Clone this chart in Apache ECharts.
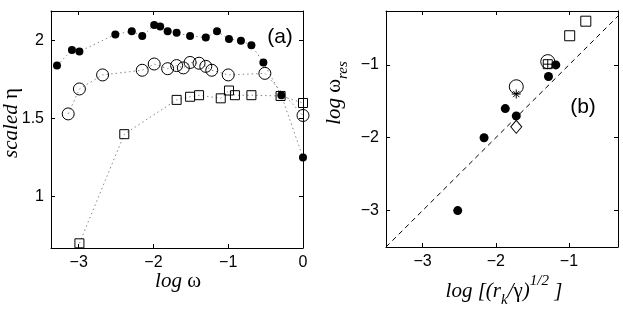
<!DOCTYPE html>
<html><head><meta charset="utf-8">
<script src="https://cdn.jsdelivr.net/npm/echarts@6/dist/echarts.min.js"></script>
<style>html,body{margin:0;padding:0;background:#fff}#c{width:623px;height:316px}</style>
</head><body><div id="c"></div>
<script>
// ---- panel (a) ----
const aTicksX = [-3, -2, -1, 0];
const aTicksY = [1, 1.5, 2];
const filledX = [-3.29,-3.09,-2.99,-2.51,-2.29,-2.15,-1.99,-1.91,-1.81,-1.69,-1.51,-1.30,-1.15,-0.99,-0.83,-0.69,-0.53,-0.29,0];
const filledY = [1.84,1.94,1.93,2.04,2.06,2.03,2.10,2.09,2.06,2.05,2.03,2.02,2.06,2.01,2.00,1.97,1.86,1.65,1.25];
const openX = [-3.14,-2.99,-2.68,-2.15,-1.99,-1.81,-1.69,-1.60,-1.51,-1.39,-1.30,-1.22,-1.00,-0.51,0];
const openY = [1.53,1.69,1.78,1.81,1.85,1.82,1.84,1.825,1.86,1.855,1.835,1.81,1.78,1.79,1.52];
const squareX = [-2.99,-2.39,-1.69,-1.51,-1.39,-1.10,-0.99,-0.91,-0.69,-0.30,0];
const squareY = [0.70,1.40,1.62,1.64,1.65,1.63,1.68,1.65,1.65,1.645,1.60];

// ---- panel (b) ----
const bTicksX = [-3, -2, -1];
const bTicksY = [-3, -2, -1];
const bFilledX = [-2.52,-2.16,-1.87,-1.72,-1.28,-1.18];
const bFilledY = [-3.0,-2.0,-1.60,-1.70,-1.16,-1.0];
const bOpenX = [-1.72,-1.29];
const bOpenY = [-1.30,-0.955];
const bStarX = [-1.72];
const bStarY = [-1.40];
const bDiamondX = [-1.72];
const bDiamondY = [-1.85];
const bSqPlusX = [-1.29];
const bSqPlusY = [-0.99];
const bSquareX = [-0.99,-0.77];
const bSquareY = [-0.60,-0.40];
const diagX = [-3.5, -0.33];
const diagY = [-3.5, -0.33];

const zip = (xs, ys) => xs.map((x, i) => [x, ys[i]]);
const fmt = v => String(v).replace('-', '\u2212');
const tickFont = {fontFamily: 'Liberation Sans', fontSize: 16, color: '#000'};

function axis(kind, grid, pos, min, max, ticks, labels) {
  return {
    type: 'value', gridIndex: grid, position: pos, min: min, max: max,
    axisLine: {show: true, onZero: false, lineStyle: {color: '#000', width: 1}},
    axisTick: {show: true, inside: true, length: 4, customValues: ticks, lineStyle: {color: '#000'}},
    axisLabel: labels ? Object.assign({show: true, customValues: ticks, formatter: fmt, margin: 7}, tickFont) : {show: false},
    splitLine: {show: false}
  };
}

const dotted = {color: '#888', width: 1, type: [1.5, 3]};
const hollow = {color: 'rgba(0,0,0,0)', borderColor: '#000', borderWidth: 1, opacity: 1};
const solid = {color: '#000', opacity: 1};

const starPath = 'path://M0,5H10M5,0V10M1.5,1.5L8.5,8.5M8.5,1.5L1.5,8.5';
const diamondPath = 'path://M5,0L10,6L5,12L0,6Z';
const sqPlusPath = 'path://M0,0H10V10H0ZM5,0V10M0,5H10';

const serif = 'Liberation Serif';
const richBase = {
  m: {fontFamily: serif, fontStyle: 'italic', fontSize: 21, lineHeight: 34, verticalAlign: 'middle'},
  g: {fontFamily: serif, fontStyle: 'normal', fontSize: 21, lineHeight: 34, verticalAlign: 'middle'},
  s: {fontFamily: serif, fontStyle: 'italic', fontSize: 15, lineHeight: 15, verticalAlign: 'bottom'},
  p: {fontFamily: serif, fontStyle: 'italic', fontSize: 15, lineHeight: 13, verticalAlign: 'top'}
};

const option = {
  animation: false,
  backgroundColor: '#fff',
  grid: [
    {left: 51, top: 11, width: 252, height: 237},
    {left: 386, top: 11, width: 232, height: 236}
  ],
  xAxis: [
    axis('x', 0, 'bottom', -3.37, 0, aTicksX, true),
    axis('x', 0, 'top', -3.37, 0, aTicksX, false),
    axis('x', 1, 'bottom', -3.5, -0.33, bTicksX, true),
    axis('x', 1, 'top', -3.5, -0.33, bTicksX, false)
  ],
  yAxis: [
    axis('y', 0, 'left', 0.67, 2.19, aTicksY, true),
    axis('y', 0, 'right', 0.67, 2.19, aTicksY, false),
    axis('y', 1, 'left', -3.5, -0.26, bTicksY, true),
    axis('y', 1, 'right', -3.5, -0.26, bTicksY, false)
  ],
  series: [
    {type: 'line', xAxisIndex: 0, yAxisIndex: 0, data: zip(squareX, squareY), symbol: 'rect', symbolSize: 9,
     showAllSymbol: true, lineStyle: dotted, itemStyle: hollow, clip: false},
    {type: 'line', xAxisIndex: 0, yAxisIndex: 0, data: zip(openX, openY), symbol: 'circle', symbolSize: 12,
     showAllSymbol: true, lineStyle: dotted, itemStyle: hollow, clip: false},
    {type: 'line', xAxisIndex: 0, yAxisIndex: 0, data: zip(filledX, filledY), symbol: 'circle', symbolSize: 8,
     showAllSymbol: true, lineStyle: dotted, itemStyle: solid, clip: false},

    {type: 'line', xAxisIndex: 2, yAxisIndex: 2, data: zip(diagX, diagY), symbol: 'none',
     lineStyle: {color: '#000', width: 1, type: [5, 4]}},
    {type: 'scatter', xAxisIndex: 2, yAxisIndex: 2, data: zip(bOpenX, bOpenY), symbol: 'circle', symbolSize: 14, itemStyle: hollow},
    {type: 'scatter', xAxisIndex: 2, yAxisIndex: 2, data: zip(bSquareX, bSquareY), symbol: 'rect', symbolSize: 10, itemStyle: hollow},
    {type: 'scatter', xAxisIndex: 2, yAxisIndex: 2, data: zip(bSqPlusX, bSqPlusY), symbol: sqPlusPath, symbolSize: 9, itemStyle: hollow},
    {type: 'scatter', xAxisIndex: 2, yAxisIndex: 2, data: zip(bStarX, bStarY), symbol: starPath, symbolSize: 9, itemStyle: hollow},
    {type: 'scatter', xAxisIndex: 2, yAxisIndex: 2, data: zip(bDiamondX, bDiamondY), symbol: diamondPath, symbolSize: [11, 13], itemStyle: hollow},
    {type: 'scatter', xAxisIndex: 2, yAxisIndex: 2, data: zip(bFilledX, bFilledY), symbol: 'circle', symbolSize: 9, itemStyle: solid}
  ],
  graphic: [
    {type: 'text', x: 280, y: 37, style: {text: '(a)', font: '21px "Liberation Sans"', fill: '#000', textAlign: 'center', textVerticalAlign: 'middle'}},
    {type: 'text', x: 583, y: 107, style: {text: '(b)', font: '21px "Liberation Sans"', fill: '#000', textAlign: 'center', textVerticalAlign: 'middle'}},
    {type: 'text', x: 178, y: 281, style: {text: '{m|log }{g|ω}', rich: richBase, fill: '#000', textAlign: 'center', textVerticalAlign: 'middle'}},
    {type: 'text', x: 11, y: 123, rotation: Math.PI / 2,
     style: {text: '{m|scaled }{g|η}', rich: richBase, fill: '#000', textAlign: 'center', textVerticalAlign: 'middle'}},
    {type: 'text', x: 504, y: 291, style: {
      text: '{m|log [(r}{s|k}{m|/}{g|γ}{m|)}{p|1/2}{m| ]}', textAlign: 'center', textVerticalAlign: 'middle', fill: '#000',
      rich: richBase}},
    {type: 'text', x: 334, y: 93, rotation: Math.PI / 2, style: {
      text: '{m|log }{g|ω}{s|res}', textAlign: 'center', textVerticalAlign: 'middle', fill: '#000',
      rich: richBase}}
  ]
};

const chart = echarts.init(document.getElementById('c'), null, {renderer: 'canvas'});
chart.setOption(option);
</script>
</body></html>
